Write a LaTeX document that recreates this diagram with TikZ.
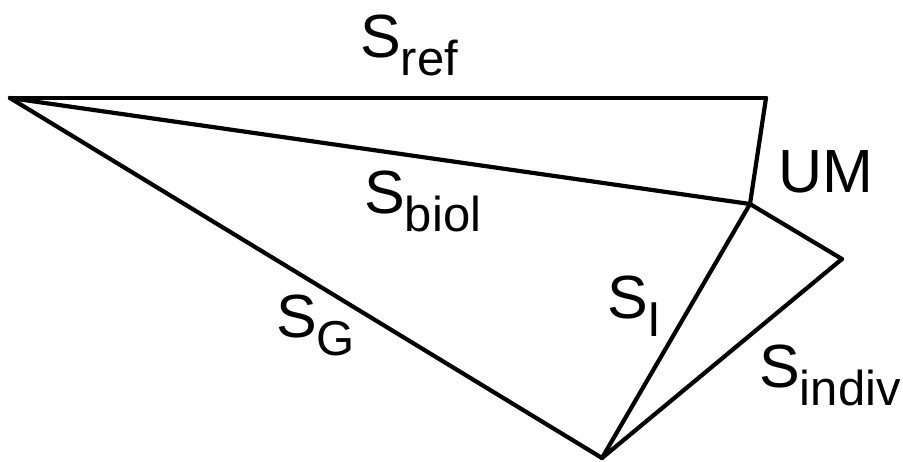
\documentclass[tikz,border=0pt]{standalone}
\usepackage{fontspec}
\setmainfont{Liberation Sans}
\newcommand{\lowsub}[1]{\raisebox{-18pt}{\fontsize{49}{49}\selectfont #1}}
\tikzset{
	edge/.style={line width=4.2pt, line cap=round, line join=miter},
	lbl/.style={anchor=base west, inner sep=0pt, font=\fontsize{61}{63}\selectfont}
}
\begin{document}
\begin{tikzpicture}[x=1pt, y=-1pt]
		\useasboundingbox (0,0) rectangle (903,461);
		
		% Corners
		\coordinate (tip) at (10,98);
		\coordinate (refend) at (766,98);
		\coordinate (um) at (750,204);
		\coordinate (ind) at (842,259);
		\coordinate (bot) at (602,458);
		
		% Sides
		\draw[edge] (tip) -- (refend);
		\draw[edge] (refend) -- (um);
		\draw[edge] (tip) -- (um);
		\draw[edge] (tip) -- (bot);
		\draw[edge] (um) -- (bot);
		\draw[edge] (um) -- (ind);
		\draw[edge] (ind) -- (bot);
		
		% Labels
		\node[lbl] (sref) at (360,57) {S\lowsub{ref}};
		\node[lbl] (umlbl) at (778,192) {UM};
		\node[lbl] (sbiol) at (364,213) {S\lowsub{biol}};
		\node[lbl] (sg) at (276,337) {S\lowsub{G}};
		\node[lbl] (si) at (607,318) {S\lowsub{I}};
		\node[lbl] (sindiv) at (759,387) {S\lowsub{indiv}};
	\end{tikzpicture}
\end{document}
